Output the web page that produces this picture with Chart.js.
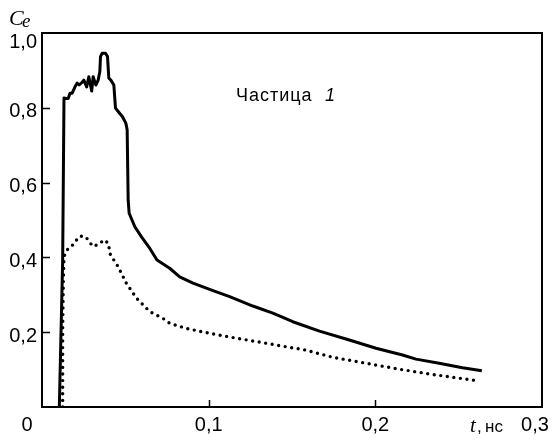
<!DOCTYPE html>
<html>
<head>
<meta charset="utf-8">
<script src="https://cdn.jsdelivr.net/npm/chart.js@4"></script>
<style>
  html, body { margin: 0; padding: 0; background: #fff; }
  canvas { display: block; }
</style>
</head>
<body>
<canvas id="chart" width="551" height="439"></canvas>
<script>
'use strict';

// ── Data (t in ns, Ce) ───────────────────────────────────────────────────────
const solidT  = [0.0104, 0.0124, 0.0132, 0.0144, 0.0157, 0.0168, 0.0181, 0.0198, 0.0211, 0.0223,
                 0.0238, 0.0251, 0.0268, 0.0281, 0.0298, 0.0307, 0.0323, 0.0337, 0.0347, 0.0351,
                 0.0361, 0.0381, 0.0393, 0.0401, 0.0413, 0.0431, 0.0441, 0.0457, 0.0483, 0.0503,
                 0.0511, 0.0517, 0.0523, 0.0557, 0.0597, 0.0647, 0.0690, 0.0766, 0.0826, 0.0906,
                 0.1026, 0.1126, 0.1265, 0.1385, 0.1505, 0.1665, 0.1844, 0.2004, 0.2163, 0.2244,
                 0.2383, 0.2523, 0.2639];
const solidCe = [0.000, 0.393, 0.826, 0.825, 0.825, 0.839, 0.839, 0.856, 0.866, 0.861,
                 0.867, 0.874, 0.856, 0.883, 0.845, 0.883, 0.861, 0.874, 0.897, 0.937,
                 0.946, 0.946, 0.937, 0.879, 0.874, 0.861, 0.799, 0.790, 0.776, 0.759,
                 0.741, 0.553, 0.518, 0.482, 0.455, 0.424, 0.393, 0.371, 0.348, 0.331,
                 0.311, 0.295, 0.270, 0.251, 0.228, 0.203, 0.179, 0.157, 0.139, 0.128,
                 0.117, 0.105, 0.097];

const dottedT  = [0.0124, 0.0124, 0.0128, 0.0132, 0.0138, 0.0151, 0.0178, 0.0204, 0.0228, 0.0263,
                  0.0283, 0.0307, 0.0343, 0.0373, 0.0397, 0.0411, 0.0437, 0.0457, 0.0487, 0.0507,
                  0.0527, 0.0567, 0.0587, 0.0647, 0.0726, 0.0766, 0.0866, 0.1006, 0.1166, 0.1325,
                  0.1465, 0.1585, 0.1744, 0.1944, 0.2144, 0.2343, 0.2503, 0.2619];
const dottedCe = [0.000, 0.206, 0.340, 0.398, 0.411, 0.420, 0.430, 0.445, 0.457, 0.455,
                  0.442, 0.429, 0.436, 0.447, 0.438, 0.406, 0.389, 0.375, 0.348, 0.330,
                  0.317, 0.291, 0.282, 0.255, 0.237, 0.224, 0.210, 0.197, 0.184, 0.172,
                  0.161, 0.152, 0.133, 0.117, 0.101, 0.087, 0.077, 0.070];

const xTickValues = [0.1, 0.2];
const xTickLabels = ['0,1', '0,2'];
const yTickValues = [1.0, 0.8, 0.6, 0.4, 0.2];
const yTickLabels = ['1,0', '0,8', '0,6', '0,4', '0,2'];

const SANS  = '"Liberation Sans", Arial, sans-serif';
const SERIF = '"Liberation Serif", "Times New Roman", serif';

const toPoints = (xs, ys) => xs.map((x, i) => ({ x, y: ys[i] }));

// ── Frame, inside ticks and text ─────────────────────────────────────────────
const decorPlugin = {
  id: 'decor',
  afterDraw(chart) {
    const { ctx, chartArea: a, scales: { x, y } } = chart;
    ctx.save();
    ctx.strokeStyle = '#000';
    ctx.lineWidth = 2;
    ctx.strokeRect(a.left, a.top, a.right - a.left, a.bottom - a.top);

    ctx.beginPath();
    yTickValues.forEach(v => {
      const py = Math.round(y.getPixelForValue(v)) + 0.5;
      if (v < 1) { ctx.moveTo(a.left, py); ctx.lineTo(a.left + 8, py); }
    });
    xTickValues.forEach(v => {
      const px = Math.round(x.getPixelForValue(v)) + 0.5;
      ctx.moveTo(px, a.bottom); ctx.lineTo(px, a.bottom - 7);
    });
    ctx.lineWidth = 1.5;
    ctx.stroke();

    ctx.fillStyle = '#000';
    ctx.font = `20px ${SANS}`;
    ctx.textBaseline = 'middle';

    // y labels
    ctx.textAlign = 'right';
    yTickValues.forEach((v, i) => {
      const off = v === 1 ? 9 : 4;
      ctx.fillText(yTickLabels[i], a.left - 5, y.getPixelForValue(v) + off);
    });

    // x labels
    ctx.textAlign = 'center';
    const ly = a.bottom + 18;
    xTickValues.forEach((v, i) => ctx.fillText(xTickLabels[i], x.getPixelForValue(v), ly));
    ctx.fillText('0', x.getPixelForValue(0) - 15, ly);
    ctx.fillText('0,3', x.getPixelForValue(0.3) - 7, ly);

    // axis titles
    ctx.textAlign = 'left';
    ctx.textBaseline = 'alphabetic';
    ctx.font = `italic 21px ${SERIF}`;
    ctx.fillText('t', 470, 432);
    ctx.font = `17px ${SANS}`;
    ctx.fillText(',', 477, 432);
    ctx.fillText('нс', 485, 432);

    ctx.font = `italic 22px ${SERIF}`;
    ctx.fillText('C', 9, 25);
    ctx.font = `italic 19px ${SERIF}`;
    ctx.fillText('e', 22, 27);

    // annotation
    ctx.font = `18px ${SANS}`;
    ctx.letterSpacing = '1px';
    ctx.fillText('Частица', 236, 101);
    ctx.letterSpacing = '0px';
    ctx.font = `italic 18px ${SANS}`;
    ctx.fillText('1', 325, 101);
    ctx.restore();
  },
};

// ── Chart ────────────────────────────────────────────────────────────────────
new Chart(document.getElementById('chart').getContext('2d'), {
  type: 'line',
  data: {
    datasets: [
      {
        data: toPoints(solidT, solidCe),
        borderColor: '#000',
        borderWidth: 3,
        borderJoinStyle: 'round',
        pointRadius: 0,
        tension: 0,
        fill: false,
      },
      {
        data: toPoints(dottedT, dottedCe),
        borderColor: '#000',
        borderWidth: 3.4,
        borderDash: [0, 6.6],
        borderCapStyle: 'round',
        pointRadius: 0,
        tension: 0,
        fill: false,
      },
    ],
  },
  options: {
    responsive: false,
    animation: false,
    layout: { padding: { left: 42, top: 33, right: 9, bottom: 32 } },
    scales: {
      x: { type: 'linear', min: 0, max: 0.3, display: false },
      y: { type: 'linear', min: 0, max: 1, display: false },
    },
    plugins: { legend: { display: false }, tooltip: { enabled: false } },
  },
  plugins: [decorPlugin],
});
</script>
</body>
</html>
